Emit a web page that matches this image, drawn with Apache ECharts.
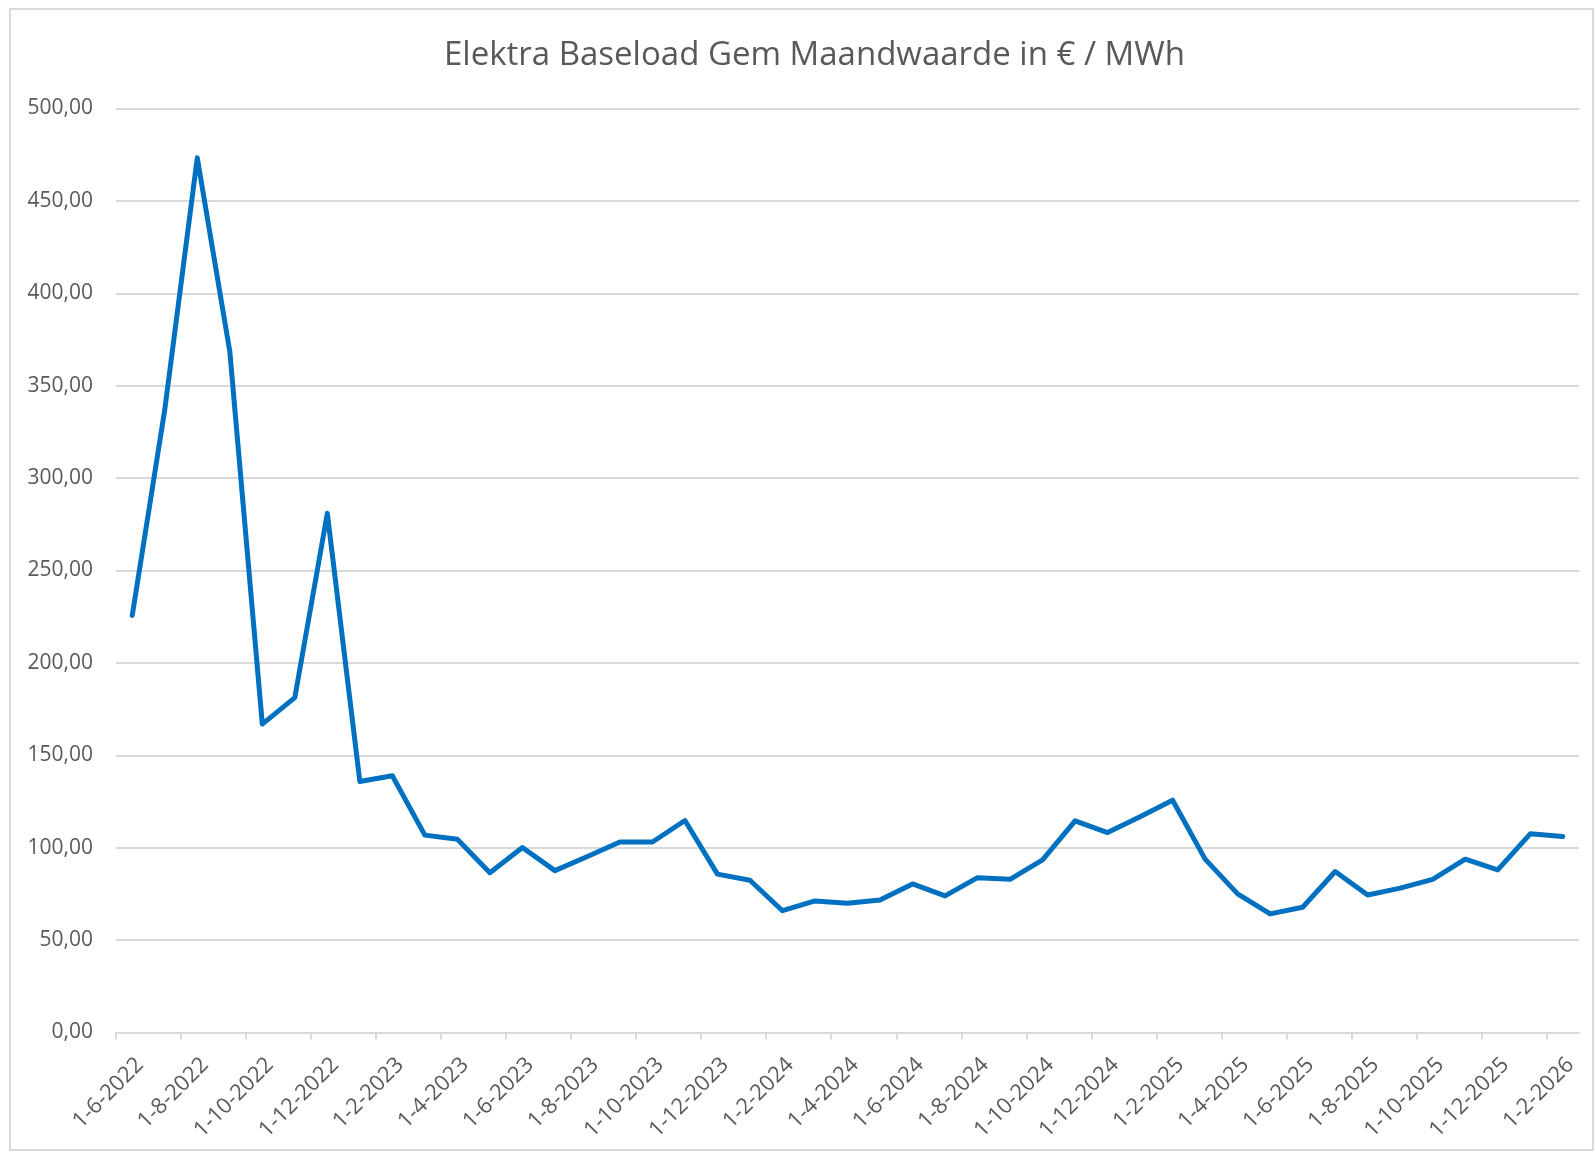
<!DOCTYPE html>
<html>
<head>
<meta charset="utf-8">
<title>Elektra Baseload</title>
<script src="https://cdn.jsdelivr.net/npm/echarts@6/dist/echarts.min.js"></script>
<style>
    html, body { margin: 0; padding: 0; background: #fff; }
    #chart { width: 1595px; height: 1152px; }
</style>
</head>
<body>
<div id="chart"></div>
<script>
// maanden (1e van de maand), juni 2022 t/m februari 2026
var months = [
    '1-6-2022', '1-7-2022', '1-8-2022', '1-9-2022', '1-10-2022', '1-11-2022', '1-12-2022',
    '1-1-2023', '1-2-2023', '1-3-2023', '1-4-2023', '1-5-2023', '1-6-2023', '1-7-2023',
    '1-8-2023', '1-9-2023', '1-10-2023', '1-11-2023', '1-12-2023',
    '1-1-2024', '1-2-2024', '1-3-2024', '1-4-2024', '1-5-2024', '1-6-2024', '1-7-2024',
    '1-8-2024', '1-9-2024', '1-10-2024', '1-11-2024', '1-12-2024',
    '1-1-2025', '1-2-2025', '1-3-2025', '1-4-2025', '1-5-2025', '1-6-2025', '1-7-2025',
    '1-8-2025', '1-9-2025', '1-10-2025', '1-11-2025', '1-12-2025',
    '1-1-2026', '1-2-2026'
];

// gemiddelde maandwaarde in € / MWh
var prices = [
    225.7, 337.0, 473.3, 368.6, 166.9, 181.2, 280.9,
    135.8, 138.9, 106.8, 104.6, 86.5, 100.1, 87.6,
    95.2, 103.1, 103.1, 114.7, 85.7,
    82.4, 65.9, 71.2, 69.9, 71.7, 80.4, 73.9,
    83.8, 82.9, 93.4, 114.5, 108.2,
    116.8, 125.7, 93.8, 75.0, 64.2, 67.8, 87.1,
    74.4, 78.1, 82.9, 93.8, 88.0,
    107.5, 106.0
];

// labels op elke tweede maand
var tickIdx = [];
for (var i = 0; i < months.length; i += 2) tickIdx.push(i);

var myChart = echarts.init(document.getElementById('chart'));
var option = {
    animation: false,
    backgroundColor: '#ffffff',
    title: {
        text: 'Elektra Baseload Gem Maandwaarde in € / MWh',
        left: 439,
        top: 34,
        textStyle: {
            fontFamily: 'Open Sans',
            fontSize: 33,
            fontWeight: 'normal',
            color: '#595959'
        }
    },
    graphic: [{
        type: 'rect',
        shape: { x: 10, y: 9, width: 1583, height: 1141 },
        style: { fill: 'none', stroke: '#d9d9d9', lineWidth: 2 },
        silent: true
    }],
    grid: {
        left: 116,
        right: 16,
        top: 108.5,
        bottom: 119.5,
        containLabel: false
    },
    xAxis: {
        type: 'value',
        min: 0,
        max: months.length,
        interval: 2,
        splitLine: { show: false },
        axisLine: { show: true, lineStyle: { color: '#d9d9d9', width: 2 } },
        axisTick: {
            show: true,
            length: 7,
            customValues: tickIdx,
            lineStyle: { color: '#d9d9d9', width: 2 }
        },
        axisLabel: {
            customValues: tickIdx,
            rotate: 45,
            margin: 5,
            verticalAlign: 'top',
            padding: [23, 0, 0, 0],
            fontFamily: 'Open Sans',
            fontSize: 22,
            color: '#595959',
            formatter: function (v) { return months[v] || ''; }
        }
    },
    yAxis: {
        type: 'value',
        min: 0,
        max: 500,
        interval: 50,
        axisLine: { show: false },
        axisTick: { show: false },
        splitLine: { lineStyle: { color: '#d9d9d9', width: 2 } },
        axisLabel: {
            margin: 23,
            fontFamily: 'Open Sans',
            fontSize: 21,
            color: '#595959',
            formatter: function (v) { return v.toFixed(2).replace('.', ','); }
        }
    },
    series: [{
        type: 'line',
        data: prices.map(function (p, i) { return [i + 0.5, p]; }),
        showSymbol: false,
        lineStyle: { color: '#0070C0', width: 5, cap: 'round', join: 'round' },
        itemStyle: { color: '#0070C0' }
    }]
};
myChart.setOption(option);
</script>
</body>
</html>
